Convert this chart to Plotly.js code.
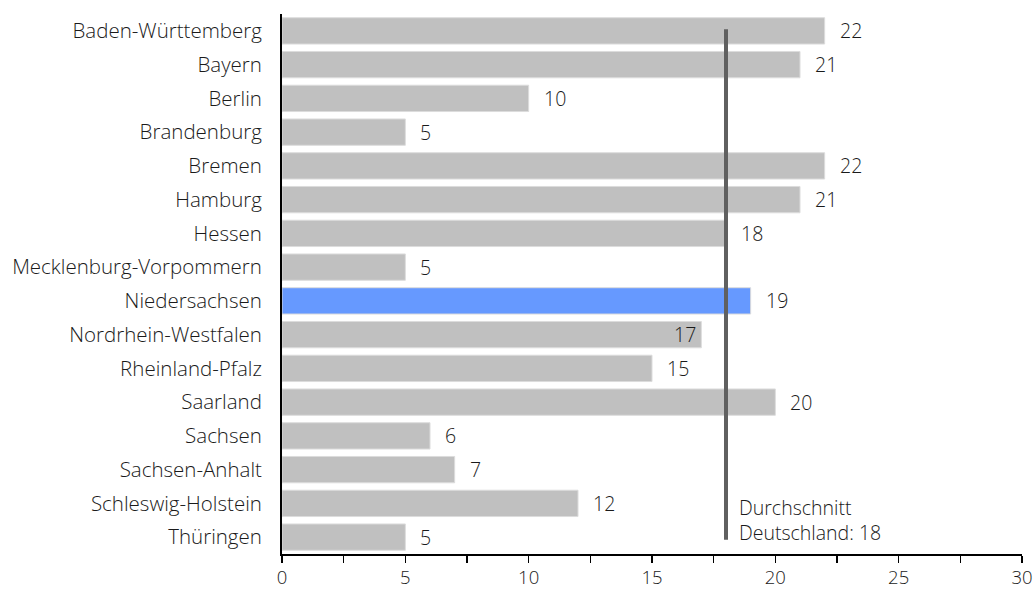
<!DOCTYPE html>
<html><head><meta charset="utf-8">
<script src="https://cdn.plot.ly/plotly-3.0.1.min.js"></script>
<style>html,body{margin:0;padding:0;background:#fff}</style>
</head><body>
<div id="chart" style="width:1036px;height:590px"></div>
<script>
const states = ["Baden-Württemberg","Bayern","Berlin","Brandenburg","Bremen","Hamburg","Hessen","Mecklenburg-Vorpommern","Niedersachsen","Nordrhein-Westfalen","Rheinland-Pfalz","Saarland","Sachsen","Sachsen-Anhalt","Schleswig-Holstein","Thüringen"];
const values = [22,21,10,5,22,21,18,5,19,17,15,20,6,7,12,5];
const highlight = "Niedersachsen";
const average = 18;
const averageLabel = "Durchschnitt<br>Deutschland: " + average;
const xTicks = [0,5,10,15,20,25,30];

const colors = states.map(s => s === highlight ? "#6699ff" : "#c0c0c0");
const font = {family: "Open Sans, sans-serif", size: 19.5, color: "#1a1a1a", weight: 300};
const yFont = Object.assign({}, font, {size: 20.5});
const xFont = Object.assign({}, font, {size: 18.5});

const annotations = states.map((s,i) => {
  const inside = values[i] === 17;
  return {
    x: values[i], y: s, xref: "x", yref: "y",
    text: String(values[i]), showarrow: false,
    xanchor: inside ? "right" : "left",
    xshift: inside ? -3 : 13,
    font: font
  };
});
annotations.push({
  x: average, y: 15, xref: "x", yref: "y", text: averageLabel,
  showarrow: false, xanchor: "left", yanchor: "middle", align: "left",
  xshift: 11, yshift: 17, font: font
});

Plotly.newPlot("chart", [{
  type: "bar", orientation: "h", x: values, y: states,
  marker: {color: colors, line: {color: "#dcdcdc", width: 1}},
  width: 0.78, hoverinfo: "none"
}], {
  width: 1036, height: 590,
  margin: {l: 282, r: 14, t: 14, b: 36},
  paper_bgcolor: "#fff", plot_bgcolor: "#fff",
  font: font,
  showlegend: false,
  xaxis: {
    range: [0, 30], tickvals: xTicks, ticks: "outside", ticklen: 7, tickwidth: 1.5,
    tickcolor: "#000", showline: true, linecolor: "#000", linewidth: 2,
    showgrid: false, zeroline: false, tickfont: xFont, ticklabelstandoff: -1,
    minor: {dtick: 2.5, tick0: 0, ticks: "outside", ticklen: 7, tickwidth: 1.5, tickcolor: "#000", showgrid: false}
  },
  yaxis: {
    type: "category", autorange: "reversed", range: [15.5, -0.5],
    showline: true, linecolor: "#000", linewidth: 2, ticks: "",
    ticklabelstandoff: 14, showgrid: false, zeroline: false, tickfont: yFont
  },
  shapes: [{
    type: "line", xref: "x", yref: "y", x0: average, x1: average, y0: -0.05, y1: 15.08,
    line: {color: "#606060", width: 4}
  }],
  annotations: annotations
}, {displayModeBar: false, staticPlot: true});
</script>
</body></html>
